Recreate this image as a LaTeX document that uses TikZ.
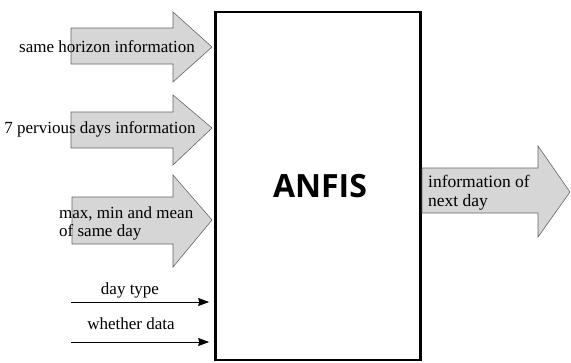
\documentclass[tikz,border=0pt]{standalone}
\usepackage{fontspec}
\setmainfont{Liberation Serif}
\newfontfamily\boxfont{Open Sans}
\usetikzlibrary{arrows.meta}
\begin{document}
\begin{tikzpicture}[x=1pt,y=-1pt,
  fat/.style={fill=black!16,draw=black!60,line width=0.6pt,line join=miter},
  lbl/.style={font=\fontsize{17}{18}\selectfont,inner sep=0pt,align=left},
  thin/.style={line width=0.8pt,-{Stealth[length=11pt,width=8pt,inset=1pt]}}]
\useasboundingbox (0,0) rectangle (571,362);
% main box
\node[draw,line width=2.6pt,minimum width=205pt,minimum height=348pt,inner sep=0pt] (anfis) at (318,186) {};
\node[font=\boxfont\bfseries\fontsize{32}{36}\selectfont] (anfist) at (320,186) {ANFIS};
% fat input arrows
\draw[fat] (71,28) -- (173,28) -- (173,12) -- (212,47) -- (173,82) -- (173,64) -- (71,64) -- cycle;
\node[lbl,anchor=center] (t1) at (107,47) {same horizon information};
\draw[fat] (71,112) -- (173,112) -- (173,95) -- (212,128) -- (173,165) -- (173,148) -- (71,148) -- cycle;
\node[lbl,anchor=center] (t2) at (100,129) {7 pervious days information};
\draw[fat] (72,197) -- (173,197) -- (173,175) -- (212,220) -- (173,267) -- (173,244) -- (72,244) -- cycle;
\node[lbl,anchor=west,font=\fontsize{17}{17.5}\selectfont] (t3) at (59,223.5) {max, min and mean\\of same day};
% thin input arrows
\coordinate (d1) at (71,302);
\coordinate (d2) at (71,342);
\draw[thin] (d1) -- ([xshift=-5pt]d1 -| anfis.west);
\draw[thin] (d2) -- ([xshift=-5pt]d2 -| anfis.west);
\node[lbl] (t4) at (130,290) {day type};
\node[lbl] (t5) at (131,324) {whether data};
% output arrow
\draw[fat] (422,168) -- (538,168) -- (538,146) -- (570,192) -- (538,237) -- (538,213) -- (422,213) -- cycle;
\node[lbl,anchor=west,font=\fontsize{17.5}{19}\selectfont] (t6) at (428,192.5) {information of\\next day};
\end{tikzpicture}
\end{document}
